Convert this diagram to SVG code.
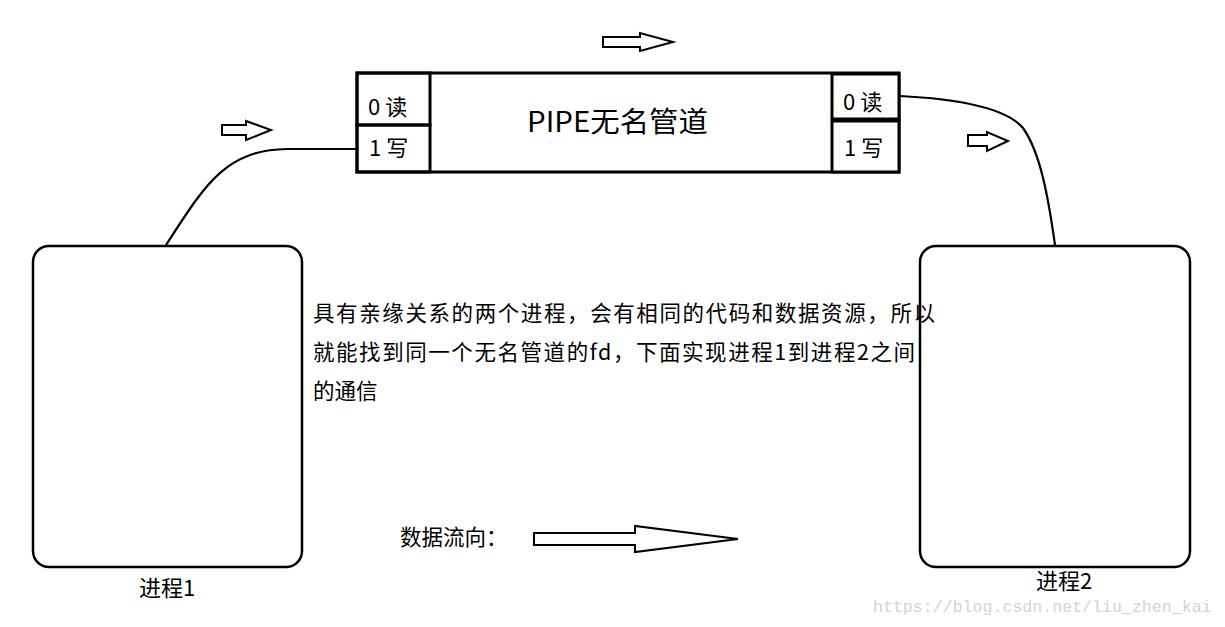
<svg xmlns="http://www.w3.org/2000/svg" width="1225" height="627" viewBox="0 0 1225 627">
<style>
.ln{fill:none;stroke:#000;stroke-width:2.5}
.pp{stroke:#000;stroke-width:3}
.cn{fill:none;stroke:#000;stroke-width:2.2}
.ar{fill:#fff;stroke:#000;stroke-width:2;stroke-linejoin:miter}
.t{font-family:"Noto Sans CJK SC","Microsoft YaHei",sans-serif;fill:#000}
.cl{font-size:22px}
.wm{font-family:"Liberation Mono","DejaVu Sans Mono",monospace;fill:#d4d4d4;font-size:16.6px}
</style>
<rect width="1225" height="627" fill="#fff"/>
<g id="connectors">
<path class="cn" d="M166,245 C205,185 225,150 287,149 L357,149"/>
<path class="cn" d="M900,96 Q1000,101 1023,128 C1040,152 1048,195 1055,245"/>
</g>
<g id="arrows">
<path class="ar" d="M603,37 L640,37 L640,33 L673,42 L640,51 L640,47 L603,47 Z"/>
<path class="ar" d="M222,125 L246,125 L246,121 L271,130 L246,140 L246,135 L222,135 Z"/>
<path class="ar" d="M968,135 L987,135 L987,132 L1008,141 L987,151 L987,146 L968,146 Z"/>
<path class="ar" d="M534,533 L635,533 L635,526 L738,539 L635,552 L635,545 L534,545 Z"/>
</g>
<g id="pipe">
<rect class="pp" x="357" y="73" width="542" height="99" fill="#fff"/>
<rect class="pp" x="357" y="73" width="73" height="52" fill="none"/>
<rect class="pp" x="357" y="125" width="73" height="47" fill="none"/>
<rect class="pp" x="832" y="74" width="67" height="45" fill="#fff"/>
<rect class="pp" x="832" y="121" width="67" height="51" fill="#fff"/>
<text class="t" x="527" y="132" font-size="28" textLength="181" lengthAdjust="spacingAndGlyphs">PIPE无名管道</text>
<text class="t cl" x="368" y="115">0 读</text>
<text class="t cl" x="369" y="156">1 写</text>
<text class="t cl" x="843" y="110">0 读</text>
<text class="t cl" x="844" y="156">1 写</text>
</g>
<g id="process1">
<rect class="ln" x="33" y="246" width="269" height="321" rx="16" ry="16" fill="#fff"/>
<text class="t" x="167" y="596" font-size="22" text-anchor="middle">进程1</text>
</g>
<g id="process2">
<rect class="ln" x="920" y="246" width="270" height="321" rx="16" ry="16" fill="#fff"/>
<text class="t" x="1064" y="589" font-size="22" text-anchor="middle">进程2</text>
</g>
<g id="description">
<text class="t" font-size="21.5"><tspan x="313" y="321" textLength="622" lengthAdjust="spacing">具有亲缘关系的两个进程，会有相同的代码和数据资源，所以</tspan><tspan x="313" y="360" textLength="602" lengthAdjust="spacing">就能找到同一个无名管道的fd，下面实现进程1到进程2之间</tspan><tspan x="313" y="399">的通信</tspan></text>
</g>
<g id="legend">
<text class="t" x="400" y="545" font-size="21.5">数据流向：</text>
</g>
<text class="wm" x="873" y="612">https://blog.csdn.net/liu_zhen_kai</text>
</svg>
